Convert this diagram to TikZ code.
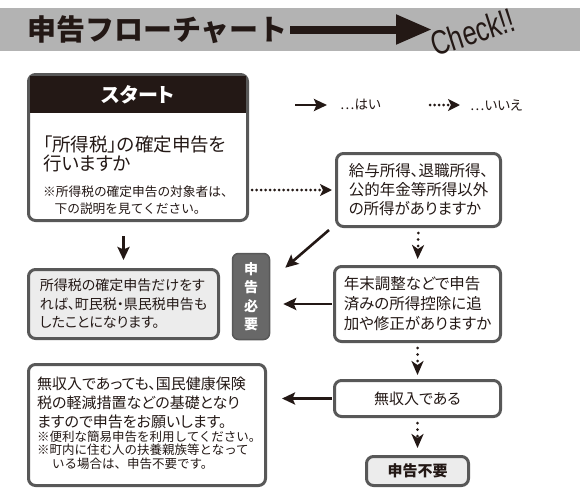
\documentclass[tikz,border=0pt]{standalone}
\usepackage{fontspec}
\setmainfont{Liberation Sans}
\newfontfamily\jp[RawFeature=+palt]{Noto Sans CJK JP}
\newfontfamily\jpw{Noto Sans CJK JP}
\usetikzlibrary{arrows.meta,positioning}
\definecolor{ink}{RGB}{35,24,21}
\definecolor{band}{RGB}{179,179,179}
\definecolor{frame}{RGB}{88,88,88}
\definecolor{pale}{RGB}{236,236,236}
\definecolor{badgegray}{RGB}{104,104,104}
\tikzset{
  box/.style={draw=frame, line width=3pt, rounded corners=7pt, fill=white, inner sep=0pt, text=ink, align=left},
  txt/.style={inner sep=0pt, text=ink, align=left},
  yes/.style={draw=ink, line width=2.6pt, -{Stealth[length=13pt,width=12pt,inset=2.5pt]}},
  no/.style={draw=ink, line width=3pt, line cap=round, dash pattern=on 0pt off 4.5pt, -{Stealth[length=12pt,width=12pt,inset=3pt]}},
  nodown/.style={no, dash pattern=on 0pt off 6.5pt, -{Stealth[length=14pt,width=12pt,inset=4pt]}}
}
\newcommand{\fs}[2]{\fontsize{#1}{#2}\selectfont}
\begin{document}
\begin{tikzpicture}[x=1pt, y=-1pt]
\useasboundingbox (0,0) rectangle (580,498);
\fill[band] (0,8) rectangle (580,51);
\node[txt, anchor=west, font=\jpw\bfseries\fs{29}{29}] (title) at (27,29.5) {申告フローチャート};
\coordinate (titletip) at (432,29.5);
\draw[ink, line width=8pt, -{Triangle[length=36pt,width=28pt]}] ([xshift=2pt]title.east) -- (titletip);
\node[txt, anchor=base west, rotate=18, xscale=0.75, font=\fs{34}{34}] (check) at (435,57) {Check!!};

% legend
\coordinate (yesA) at (295,105);
\coordinate (yesB) at (327,105);
\draw[yes] (yesA) -- (yesB);
\node[txt, anchor=west, font=\jp\fs{13.5}{13.5}] (yeslabel) at (340,105) {…はい};
\coordinate (noA) at (430,105);
\coordinate (noB) at (460,105);
\draw[no] (noA) -- (noB);
\node[txt, anchor=west, font=\jp\fs{13.5}{13.5}] (nolabel) at (470,105) {…いいえ};

% start
\node[box, minimum width=219pt, minimum height=146pt] (start) at (138,147.5) {};
\node[fill=ink, minimum width=216pt, minimum height=37pt, inner sep=0pt, text=white, font=\jp\bfseries\fs{20}{20}] (head) at (138,94.5) {スタート};
\node[txt, anchor=north west, font=\jp\fs{18.5}{19}] (ask) at (43,135.5) {「所得税」の確定申告を\\行いますか};
\node[txt, anchor=north west, font=\jpw\fs{12.7}{17}] (asknote) at (43,185.3) {※所得税の確定申告の対象者は、\\\hspace*{0.9em}下の説明を見てください。};

% questions
\node[box, minimum width=164pt, minimum height=73pt, font=\jp\fs{15.5}{19}] (salary) at (418.5,190) {給与所得、退職所得、\\公的年金等所得以外\\の所得がありますか};
\node[box, minimum width=166pt, minimum height=75pt, font=\jp\fs{15.5}{20}] (adjust) at (417.5,304) {年末調整などで申告\\済みの所得控除に追\\加や修正がありますか};
\node[box, minimum width=166pt, minimum height=36pt, font=\jp\fs{15}{15}] (noincome) at (417.5,398.5) {無収入である};

% results
\node[box, fill=pale, minimum width=190pt, minimum height=69pt, font=\jp\fs{14}{18.5}] (only) at (123.5,304) {所得税の確定申告だけをす\\れば、町民税・県民税申告も\\したことになります。};
\node[draw=frame, fill=badgegray, line width=1.5pt, rounded corners=6pt, minimum width=37pt, minimum height=86pt, inner sep=0pt, text=white, align=center, font=\jpw\bfseries\fs{14}{18.5}] (need) at (251,296.5) {申\\告\\必\\要};
\node[box, minimum width=237pt, minimum height=121pt] (please) at (147,425) {};
\node[txt, anchor=north west, font=\jp\fs{15}{19}] (pleasetext) at (37,376.2) {無収入であっても、国民健康保険\\税の軽減措置などの基礎となり\\ますので申告をお願いします。};
\node[txt, anchor=north west, font=\jpw\fs{12.5}{13.5}] (pleasenote) at (37,430.4) {※便利な簡易申告を利用してください。\\※町内に住む人の扶養親族等となって\\\hspace*{1.2em}いる場合は、申告不要です。};
\node[box, fill=pale, minimum width=102pt, minimum height=29pt, font=\jpw\bfseries\fs{15}{15}] (noneed) at (417.5,471) {申告不要};

% connectors
\draw[yes, shorten <=14pt, shorten >=8pt] (start.south -| only.north) -- (only.north);
\draw[no, shorten <=3pt, shorten >=3pt] (start.east |- salary.west) -- (salary.west);
\draw[yes] ([xshift=-6pt,yshift=-2pt]salary.south west) -- ([xshift=15pt,yshift=-15pt]need.north east);
\draw[nodown, shorten <=5pt, shorten >=6pt] (salary.south) -- (adjust.north);
\draw[yes, shorten <=1pt, shorten >=13pt] (adjust.west) -- (adjust.west -| need.east);
\draw[nodown, shorten <=5pt, shorten >=4pt] (adjust.south) -- (noincome.north);
\draw[yes, shorten <=1pt, shorten >=15pt] (noincome.west) -- (noincome.west -| please.east);
\draw[nodown, shorten <=5pt, shorten >=7pt] (noincome.south) -- (noneed.north);
\end{tikzpicture}
\end{document}
